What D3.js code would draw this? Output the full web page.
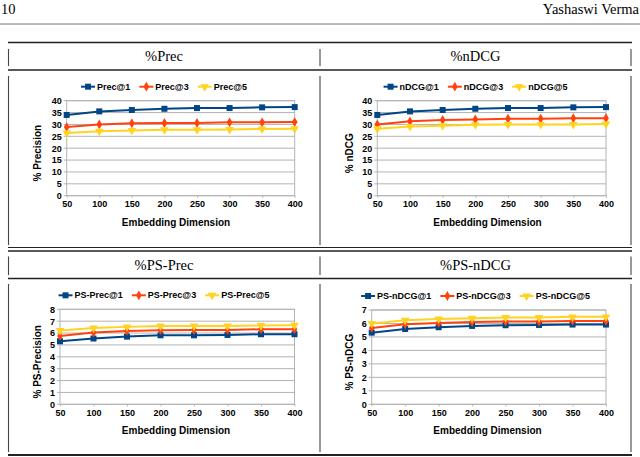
<!DOCTYPE html>
<html>
<head>
<meta charset="utf-8">
<script src="https://cdn.jsdelivr.net/npm/d3@7"></script>
<style>
  body { margin: 0; background: #fff; }
  svg { display: block; }
</style>
</head>
<body>
<svg width="640" height="457"></svg>
<script>
// data
const dims = [50, 100, 150, 200, 250, 300, 350, 400]

const precNames = ['Prec@1', 'Prec@3', 'Prec@5']
const prec1 = [34.0, 35.5, 36.1, 36.6, 36.9, 36.9, 37.2, 37.3]
const prec3 = [28.9, 30.0, 30.5, 30.6, 30.6, 30.9, 30.9, 31.0]
const prec5 = [26.4, 27.1, 27.5, 27.8, 27.8, 27.9, 28.1, 28.2]

const ndcgNames = ['nDCG@1', 'nDCG@3', 'nDCG@5']
const ndcg1 = [34.0, 35.5, 36.1, 36.6, 36.9, 36.9, 37.2, 37.3]
const ndcg3 = [30.0, 31.3, 31.9, 32.1, 32.4, 32.4, 32.6, 32.6]
const ndcg5 = [28.2, 29.1, 29.5, 29.9, 30.0, 30.0, 30.0, 30.2]

const psPrecNames = ['PS-Prec@1', 'PS-Prec@3', 'PS-Prec@5']
const psPrec1 = [5.31, 5.54, 5.70, 5.81, 5.81, 5.84, 5.90, 5.90]
const psPrec3 = [5.76, 6.04, 6.18, 6.24, 6.26, 6.26, 6.32, 6.32]
const psPrec5 = [6.21, 6.43, 6.52, 6.60, 6.60, 6.60, 6.63, 6.66]

const psNdcgNames = ['PS-nDCG@1', 'PS-nDCG@3', 'PS-nDCG@5']
const psNdcg1 = [5.32, 5.59, 5.72, 5.82, 5.87, 5.89, 5.92, 5.92]
const psNdcg3 = [5.67, 5.94, 6.04, 6.11, 6.14, 6.14, 6.19, 6.19]
const psNdcg5 = [5.99, 6.24, 6.34, 6.39, 6.44, 6.44, 6.49, 6.49]

const colors = ['#004586', '#ff420e', '#ffd320']
const shapes = [d3.symbolSquare, d3.symbolDiamond, d3.symbolTriangle]
const shapeSize = [36, 28, 32]
const shapeRot = [0, 0, 180]

const svg = d3.select('svg')
const sans = 'Liberation Sans, Arial, sans-serif'
const serif = 'Liberation Serif, Times New Roman, serif'

// page header
svg.append('text').attr('x', 1).attr('y', 14)
  .attr('font-family', serif).attr('font-size', 14.5).text('10')
svg.append('text').attr('x', 639).attr('y', 14).attr('text-anchor', 'end')
  .attr('font-family', serif).attr('font-size', 14.5).text('Yashaswi Verma')
svg.append('line').attr('x1', 0).attr('x2', 640).attr('y1', 24).attr('y2', 24)
  .attr('stroke', '#777').attr('stroke-width', 1)

// table rules
const rules = [
  { y: 42.5, w: 1.6 }, { y: 70, w: 1.4 },
  { y: 247.5, w: 1.2 }, { y: 251, w: 1.4 }, { y: 278.5, w: 1.4 },
  { y: 455, w: 2 }
]
svg.selectAll('line.rule').data(rules).enter().append('line')
  .attr('x1', 8).attr('x2', 632)
  .attr('y1', d => d.y).attr('y2', d => d.y)
  .attr('stroke', '#222').attr('stroke-width', d => d.w)

const vSegs = [[49, 66], [76, 245], [256.5, 275], [284, 452]]
;[8.5, 320, 631].forEach(x => {
  vSegs.forEach(s => {
    svg.append('line').attr('x1', x).attr('x2', x).attr('y1', s[0]).attr('y2', s[1])
      .attr('stroke', '#444').attr('stroke-width', 1.1)
  })
})

const panels = [
  { title: '%Prec', yLabel: '% Precision', names: precNames, series: [prec1, prec3, prec5],
    yMax: 40, step: 5, cx: 164, titleY: 61, box: { x0: 66.7, x1: 294.7, top: 100.7, bottom: 195.7 } },
  { title: '%nDCG', yLabel: '% nDCG', names: ndcgNames, series: [ndcg1, ndcg3, ndcg5],
    yMax: 40, step: 5, cx: 475.5, titleY: 61, box: { x0: 377.3, x1: 606, top: 100.7, bottom: 195.7 } },
  { title: '%PS-Prec', yLabel: '% PS-Precision', names: psPrecNames, series: [psPrec1, psPrec3, psPrec5],
    yMax: 8, step: 1, cx: 164, titleY: 270, box: { x0: 60, x1: 294.5, top: 309.3, bottom: 404.3 } },
  { title: '%PS-nDCG', yLabel: '% PS-nDCG', names: psNdcgNames, series: [psNdcg1, psNdcg3, psNdcg5],
    yMax: 7, step: 1, cx: 475.5, titleY: 270, box: { x0: 371.7, x1: 606, top: 310, bottom: 404.3 } }
]

function marker(g, i) {
  g.append('path')
    .attr('d', d3.symbol().type(shapes[i]).size(shapeSize[i]))
    .attr('fill', colors[i])
}

panels.forEach(p => {
  const b = p.box
  // column title
  svg.append('text').attr('x', p.cx).attr('y', p.titleY).attr('text-anchor', 'middle')
    .attr('font-family', serif).attr('font-size', 14.5).text(p.title)

  const x = d3.scaleLinear().domain([50, 400]).range([b.x0, b.x1])
  const y = d3.scaleLinear().domain([0, p.yMax]).range([b.bottom, b.top])
  const yTicks = d3.range(0, p.yMax + 0.001, p.step)

  const g = svg.append('g')

  // grid
  g.selectAll('line.grid').data(yTicks).enter().append('line')
    .attr('x1', b.x0 - 3).attr('x2', b.x1)
    .attr('y1', d => y(d)).attr('y2', d => y(d))
    .attr('stroke', '#b3b3b3').attr('stroke-width', 1)
  g.append('rect').attr('x', b.x0).attr('y', b.top)
    .attr('width', b.x1 - b.x0).attr('height', b.bottom - b.top)
    .attr('fill', 'none').attr('stroke', '#b3b3b3').attr('stroke-width', 1)

  // y axis
  const ya = g.append('g').attr('transform', `translate(${b.x0 - 5},0)`)
    .call(d3.axisLeft(y).tickValues(yTicks).tickFormat(d3.format('d')).tickSize(0).tickPadding(0))
  ya.select('.domain').remove()
  ya.selectAll('text').attr('font-family', sans).attr('font-weight', 'bold')
    .attr('font-size', 9).attr('fill', '#000')

  // x axis
  const xa = g.append('g').attr('transform', `translate(0,${b.bottom})`)
    .call(d3.axisBottom(x).tickValues(dims).tickFormat(d3.format('d')).tickSize(2).tickPadding(3))
  xa.select('.domain').remove()
  xa.selectAll('line').attr('stroke', '#b3b3b3')
  xa.selectAll('text').attr('font-family', sans).attr('font-weight', 'bold')
    .attr('font-size', 9).attr('fill', '#000')

  // axis titles
  g.append('text').attr('x', p.cx + 12).attr('y', b.bottom + 30).attr('text-anchor', 'middle')
    .attr('font-family', sans).attr('font-weight', 'bold').attr('font-size', 10)
    .text('Embedding Dimension')
  const ym = (b.top + b.bottom) / 2 + 5
  g.append('text').attr('transform', `translate(${p.cx - 123},${ym}) rotate(-90)`)
    .attr('text-anchor', 'middle')
    .attr('font-family', sans).attr('font-weight', 'bold').attr('font-size', 10)
    .text(p.yLabel)

  // series
  const line = d3.line().x((d, i) => x(dims[i])).y(d => y(d))
  p.series.forEach((s, k) => {
    const sg = g.append('g')
    sg.append('path').attr('d', line(s)).attr('fill', 'none')
      .attr('stroke', colors[k]).attr('stroke-width', 2)
    s.forEach((v, i) => {
      const m = sg.append('g')
        .attr('transform', `translate(${x(dims[i])},${y(v)}) rotate(${shapeRot[k]})`)
      marker(m, k)
    })
  })

  // legend, centered in the cell
  const lg = g.append('g')
  let cur = 0
  p.names.forEach((n, k) => {
    const it = lg.append('g').attr('transform', `translate(${cur},0)`)
    it.append('line').attr('x1', 0).attr('x2', 14).attr('stroke', colors[k]).attr('stroke-width', 2)
    const m = it.append('g').attr('transform', `translate(7,0) rotate(${shapeRot[k]})`)
    marker(m, k)
    const t = it.append('text').attr('x', 16).attr('dy', '0.35em')
      .attr('font-family', sans).attr('font-weight', 'bold').attr('font-size', 9).text(n)
    cur += 16 + t.node().getComputedTextLength() + 9
  })
  const lw = cur - 9
  lg.attr('transform', `translate(${p.cx - lw / 2},${b.top - 14})`)
})
</script>
</body>
</html>
